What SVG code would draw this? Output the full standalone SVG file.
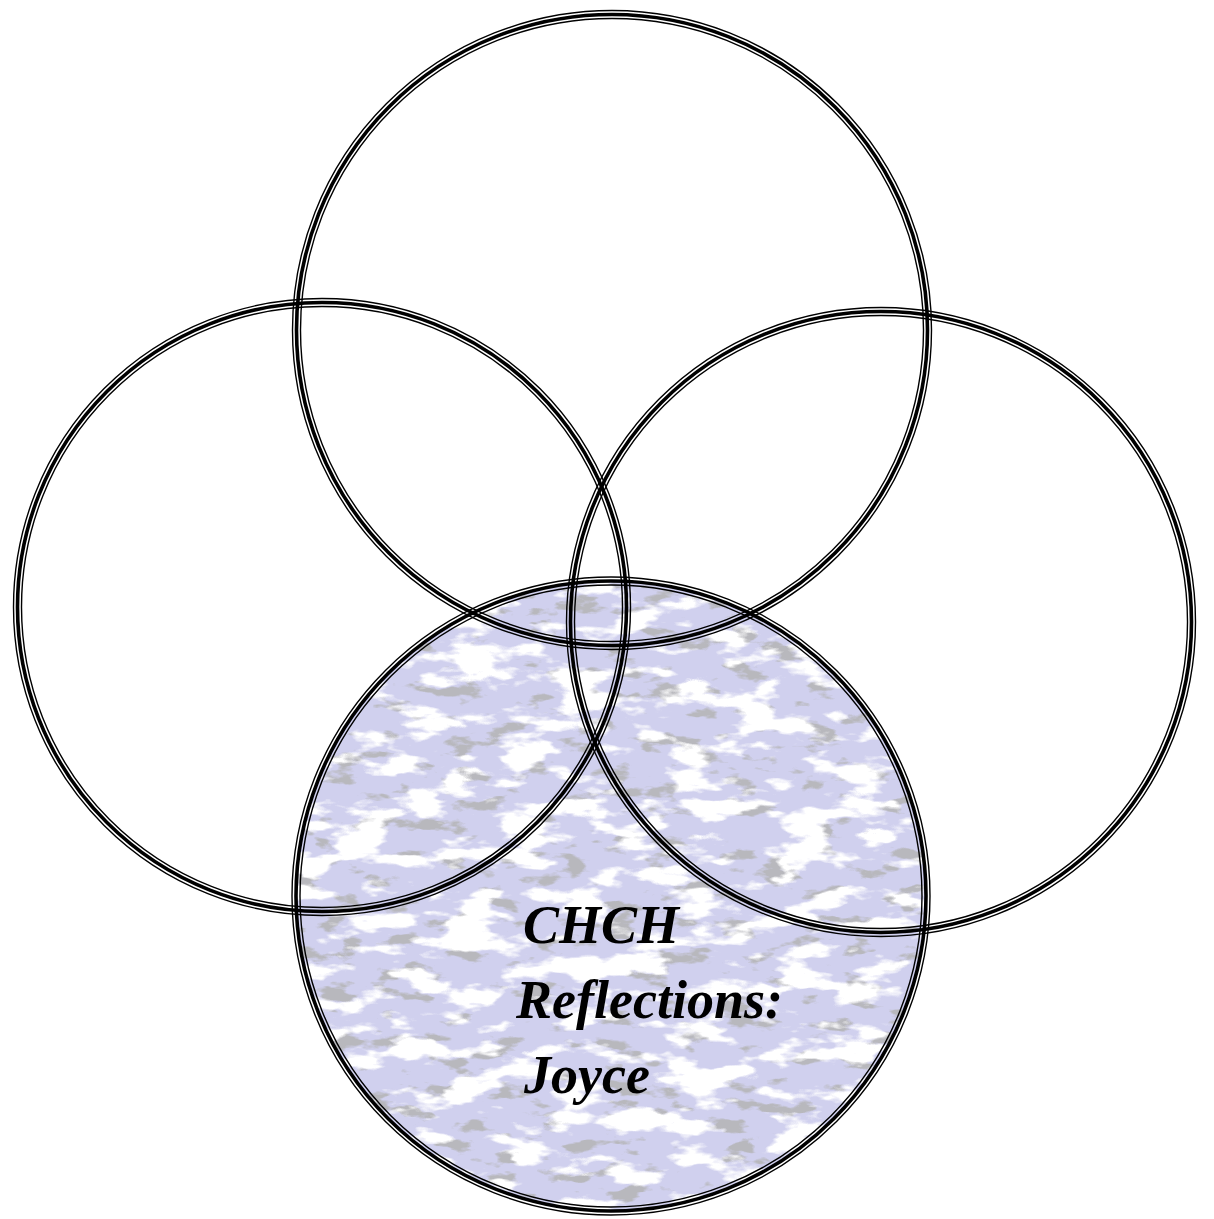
<svg xmlns="http://www.w3.org/2000/svg" width="1214" height="1219" viewBox="0 0 1214 1219">
  <style>
    .o { fill: none; stroke: #000; stroke-width: 1.4; }
    .m { fill: none; stroke: #000; stroke-width: 3.6; }
    .t { font-family: "Liberation Serif", "DejaVu Serif", serif; font-style: italic; font-weight: bold; font-size: 54px; fill: #000; }
  </style>
  <defs>
    <filter id="marble" x="0" y="0" width="1" height="1" color-interpolation-filters="sRGB">
      <feFlood flood-color="#d0d0ee" result="base"/>
      <feTurbulence type="fractalNoise" baseFrequency="0.018 0.045" numOctaves="4" seed="7" result="n1"/>
      <feColorMatrix in="n1" type="matrix" values="0 0 0 0 1  0 0 0 0 1  0 0 0 0 1  1 0 0 0 0" result="a1"/>
      <feComponentTransfer in="a1" result="w">
        <feFuncA type="linear" slope="10" intercept="-5.2"/>
      </feComponentTransfer>
      <feTurbulence type="fractalNoise" baseFrequency="0.025 0.06" numOctaves="4" seed="21" result="n2"/>
      <feColorMatrix in="n2" type="matrix" values="0 0 0 0 0.72  0 0 0 0 0.72  0 0 0 0 0.74  1 0 0 0 0" result="a2"/>
      <feComponentTransfer in="a2" result="g">
        <feFuncA type="linear" slope="10" intercept="-5.8"/>
      </feComponentTransfer>
      <feMerge result="all">
        <feMergeNode in="base"/>
        <feMergeNode in="g"/>
        <feMergeNode in="w"/>
      </feMerge>
      <feComposite in="all" in2="SourceGraphic" operator="in"/>
    </filter>
  </defs>

  <g id="bottom-fill">
    <circle cx="611" cy="896" r="315" fill="#000" filter="url(#marble)"/>
  </g>

  <g id="connectors"></g>

  <g id="circle-top">
    <circle class="o" cx="612" cy="330" r="319.5"/>
    <circle class="m" cx="612" cy="330" r="315.5"/>
    <circle class="o" cx="612" cy="330" r="311.5"/>
  </g>
  <g id="circle-left">
    <circle class="o" cx="322" cy="607" r="308.5"/>
    <circle class="m" cx="322" cy="607" r="304.5"/>
    <circle class="o" cx="322" cy="607" r="300.5"/>
  </g>
  <g id="circle-right">
    <circle class="o" cx="881" cy="622" r="314.5"/>
    <circle class="m" cx="881" cy="622" r="310.5"/>
    <circle class="o" cx="881" cy="622" r="306.5"/>
  </g>
  <g id="circle-bottom">
    <circle class="o" cx="611" cy="896" r="319"/>
    <circle class="m" cx="611" cy="896" r="315"/>
    <circle class="o" cx="611" cy="896" r="311"/>
    <text class="t" x="523" y="943">CHCH</text>
    <text class="t" x="516" y="1018">Reflections:</text>
    <text class="t" x="524" y="1093">Joyce</text>
  </g>
</svg>
